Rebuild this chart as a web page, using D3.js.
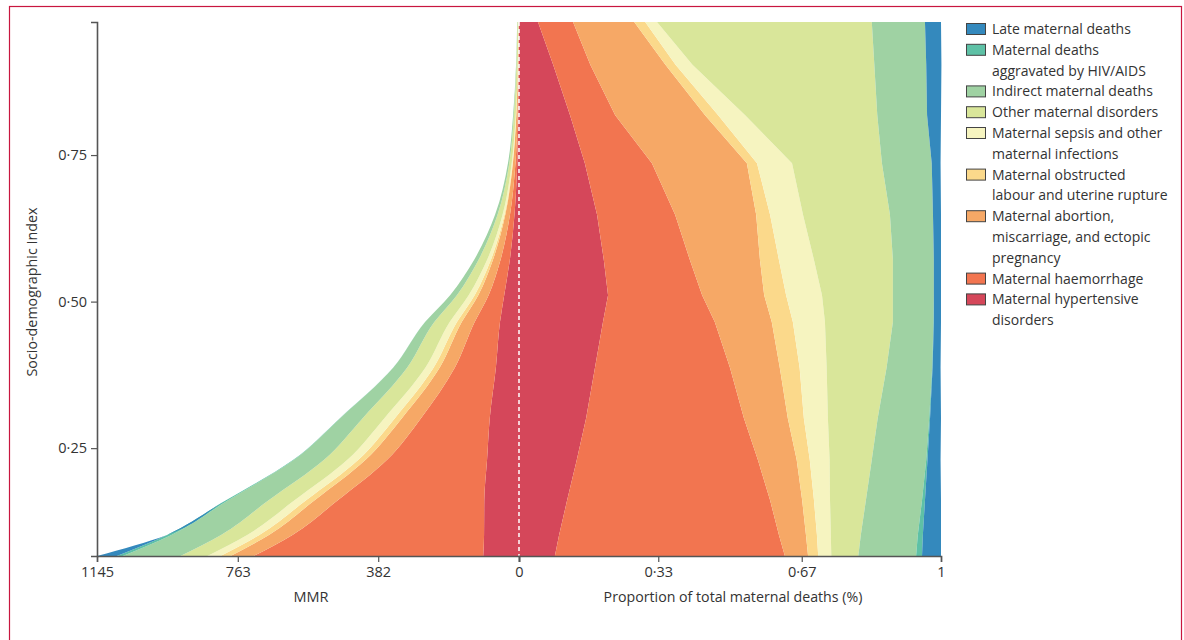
<!DOCTYPE html>
<html>
<head>
<meta charset="utf-8">
<script src="https://cdn.jsdelivr.net/npm/d3@7"></script>
<style>
	body { margin: 0; background: #fff; overflow: hidden; }
	text { font-family: "Open Sans", "Noto Sans", sans-serif; fill: #333; }
</style>
</head>
<body>
<svg id="chart" width="1184" height="640"></svg>
<script>
// Socio-demographic Index levels (bottom to top of the chart)
var sdi = [0.066, 0.102, 0.161, 0.230, 0.301, 0.387, 0.465, 0.511, 0.571, 0.648, 0.736, 0.818, 0.904, 0.977];
// maternal mortality ratio (maternal deaths per 100 000 livebirths) at each level
var mmr = [1091, 955, 795, 613, 486, 342, 255, 187, 122, 65, 30, 16, 8, 5];
// late maternal deaths on the MMR side (only at the lowest level)
var mmrLate = [54, 0, 0, 0, 0, 0, 0, 0, 0, 0, 0, 0, 0, 0];

// share of total maternal deaths, per cause, at each level
var shareHypertensive = [0.085, 0.095, 0.114, 0.137, 0.159, 0.180, 0.199, 0.211, 0.201, 0.185, 0.156, 0.121, 0.081, 0.045];
var shareHaemorrhage  = [0.545, 0.521, 0.481, 0.429, 0.374, 0.320, 0.265, 0.223, 0.204, 0.185, 0.159, 0.107, 0.088, 0.083];
var shareAbortion     = [0.055, 0.064, 0.076, 0.092, 0.104, 0.118, 0.135, 0.147, 0.166, 0.192, 0.225, 0.213, 0.178, 0.145];
var shareObstructed   = [0.024, 0.026, 0.028, 0.031, 0.038, 0.047, 0.050, 0.052, 0.045, 0.033, 0.024, 0.031, 0.024, 0.026];
var shareSepsis       = [0.031, 0.033, 0.038, 0.047, 0.057, 0.064, 0.076, 0.085, 0.083, 0.078, 0.083, 0.064, 0.040, 0.028];
var shareOther        = [0.064, 0.071, 0.085, 0.100, 0.118, 0.142, 0.161, 0.168, 0.187, 0.206, 0.213, 0.313, 0.431, 0.509];
var shareIndirect     = [0.137, 0.135, 0.133, 0.129, 0.122, 0.108, 0.096, 0.097, 0.097, 0.102, 0.118, 0.118, 0.123, 0.126];
var shareHiv          = [0.014, 0.012, 0.007, 0.003, 0.002, 0.001, 0.001, 0.000, 0.000, 0.000, 0.000, 0.000, 0.000, 0.000];
var shareLate         = [0.045, 0.043, 0.038, 0.031, 0.026, 0.019, 0.017, 0.017, 0.017, 0.019, 0.021, 0.033, 0.036, 0.038];

// stacking order, from the zero line outwards
var causeKeys = ["hypertensive", "haemorrhage", "abortion", "obstructed", "sepsis", "other", "indirect", "hiv", "late"];
var causeShares = [shareHypertensive, shareHaemorrhage, shareAbortion, shareObstructed, shareSepsis,
	shareOther, shareIndirect, shareHiv, shareLate];
var causeLabels = [
	["Maternal hypertensive", "disorders"],
	["Maternal haemorrhage"],
	["Maternal abortion,", "miscarriage, and ectopic", "pregnancy"],
	["Maternal obstructed", "labour and uterine rupture"],
	["Maternal sepsis and other", "maternal infections"],
	["Other maternal disorders"],
	["Indirect maternal deaths"],
	["Maternal deaths", "aggravated by HIV/AIDS"],
	["Late maternal deaths"]
];
var causeColors = ["#d5475a", "#f27550", "#f6a866", "#fbd98b", "#f6f4c0", "#d9e69a", "#9fd2a3", "#5ec1a6", "#3489bd"];

var mmrTicks = [1145, 763, 382, 0];
var shareTicks = [0.33, 0.67, 1];
var sdiTicks = [0.25, 0.5, 0.75];

var svg = d3.select("#chart");

// frame
svg.append("rect")
	.attr("x", 9.5).attr("y", 6.5)
	.attr("width", 1172).attr("height", 700)
	.attr("fill", "none")
	.attr("stroke", "#c8163f")
	.attr("stroke-width", 1.2);

var y = d3.scaleLinear().domain([d3.min(sdi), d3.max(sdi)]).range([556, 22]);
var xLeft = d3.scaleLinear().domain([0, 1145]).range([519, 97]);
var xRight = d3.scaleLinear().domain([0, 1]).range([519, 941]);
var color = d3.scaleOrdinal().domain(causeKeys).range(causeColors);

var shareRows = sdi.map(function(s, i) {
	var row = { sdi: s };
	causeKeys.forEach(function(k, j) { row[k] = causeShares[j][i]; });
	return row;
});
// cause-specific MMR: the MMR split by each cause's share of non-late deaths
var mmrRows = sdi.map(function(s, i) {
	var row = { sdi: s };
	causeKeys.forEach(function(k, j) {
		row[k] = k === "late" ? mmrLate[i] : mmr[i] * causeShares[j][i] / (1 - shareLate[i]);
	});
	return row;
});

var stack = d3.stack().keys(causeKeys);

var leftArea = d3.area()
	.y(function(d) { return y(d.data.sdi); })
	.x0(function(d) { return xLeft(d[0]); })
	.x1(function(d) { return xLeft(d[1]); })
	.curve(d3.curveMonotoneY);

var rightArea = d3.area()
	.y(function(d) { return y(d.data.sdi); })
	.x0(function(d) { return xRight(d[0]); })
	.x1(function(d) { return xRight(d[1]); });

svg.append("g").selectAll("path")
	.data(stack(mmrRows))
	.join("path")
	.attr("d", leftArea)
	.attr("fill", function(d) { return color(d.key); });

svg.append("g").selectAll("path")
	.data(stack(shareRows))
	.join("path")
	.attr("d", rightArea)
	.attr("fill", function(d) { return color(d.key); });

// dashed zero line
svg.append("line")
	.attr("x1", 519).attr("x2", 519)
	.attr("y1", 22).attr("y2", 556)
	.attr("stroke", "#fff")
	.attr("stroke-width", 1.5)
	.attr("stroke-dasharray", "4,3");

function dotFormat(v) {
	return String(v).replace(".", "·");
}

function styleAxis(g) {
	g.attr("font-size", 14.5).attr("font-family", "'Open Sans', sans-serif");
	g.selectAll(".domain").attr("stroke", "#555").attr("stroke-width", 1.6);
	g.selectAll(".tick line").attr("stroke", "#555").attr("stroke-width", 1.2);
	g.selectAll(".tick text").attr("fill", "#333");
}

svg.append("g")
	.attr("transform", "translate(0,556)")
	.call(d3.axisBottom(xLeft).tickValues(mmrTicks).tickFormat(d3.format("d"))
		.tickSizeOuter(0).tickSize(6).tickPadding(5))
	.call(styleAxis);

svg.append("g")
	.attr("transform", "translate(0,556)")
	.call(d3.axisBottom(xRight).tickValues(shareTicks).tickFormat(dotFormat)
		.tickSizeOuter(0).tickSize(6).tickPadding(5))
	.call(styleAxis);

svg.append("g")
	.attr("transform", "translate(97,0)")
	.call(d3.axisLeft(y).tickValues(sdiTicks).tickFormat(function(v) { return d3.format(".2f")(v).replace(".", "·"); })
		.tickSizeOuter(0).tickSize(6).tickPadding(4))
	.call(styleAxis);

// axis titles
svg.append("text")
	.attr("x", 311).attr("y", 602)
	.attr("text-anchor", "middle")
	.attr("font-size", 14.5)
	.text("MMR");

svg.append("text")
	.attr("x", 733).attr("y", 602)
	.attr("text-anchor", "middle")
	.attr("font-size", 14.2)
	.text("Proportion of total maternal deaths (%)");

svg.append("text")
	.attr("transform", "translate(37,292) rotate(-90)")
	.attr("text-anchor", "middle")
	.attr("font-size", 14.3)
	.text("Socio-demographic Index");

// legend, listed from the outermost layer inwards
var legendY = 23;
var lineH = 20.8;
causeKeys.slice().reverse().forEach(function(k) {
	var j = causeKeys.indexOf(k);
	svg.append("rect")
		.attr("x", 966.5).attr("y", legendY + 0.5)
		.attr("width", 19).attr("height", 11)
		.attr("fill", color(k))
		.attr("stroke", "#444")
		.attr("stroke-width", 1);
	causeLabels[j].forEach(function(line, n) {
		svg.append("text")
			.attr("x", 992)
			.attr("y", legendY + 11 + n * lineH)
			.attr("font-size", 14)
			.text(line);
	});
	legendY += causeLabels[j].length * lineH;
});
</script>
</body>
</html>
